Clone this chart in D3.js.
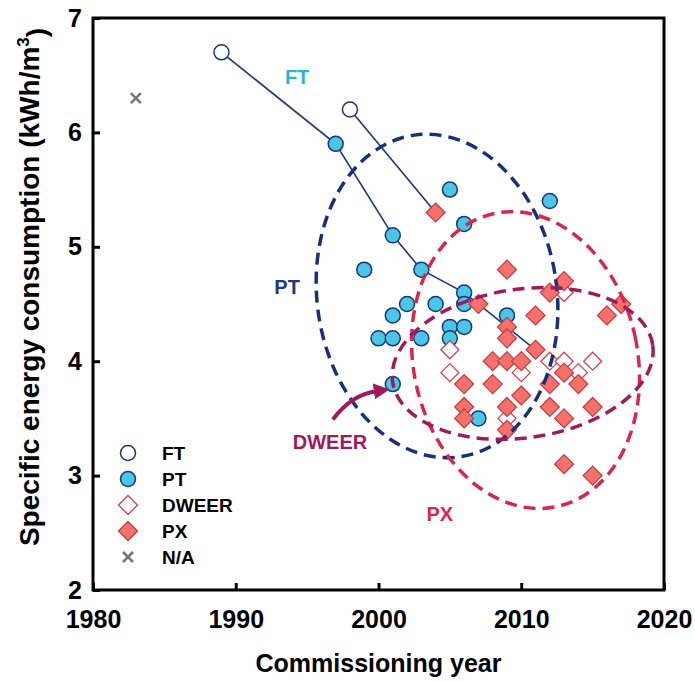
<!DOCTYPE html>
<html>
<head>
<meta charset="utf-8">
<script src="https://cdn.jsdelivr.net/npm/d3@7"></script>
<style>
body{margin:0;background:#fff;}
text{font-family:"Liberation Sans",Arial,sans-serif;font-weight:bold;}
</style>
</head>
<body>
<svg id="chart" width="695" height="681"></svg>
<script>
//data: [commissioning year, SEC kWh/m3]
var ftPoints=[[1989,6.7],[1998,6.2]];
var ptPoints=[[1997,5.9],[2001,5.1],[1999,4.8],[2003,4.8],[2005,5.5],[2006,5.2],[2012,5.4],
	[2006,4.6],[2006,4.5],[2002,4.5],[2004,4.5],[2001,4.4],[2009,4.4],[2005,4.3],[2006,4.3],
	[2005,4.2],[2000,4.2],[2001,4.2],[2003,4.2],[2001,3.8],[2007,3.5]];
var dweerPoints=[[2005,4.1],[2005,3.9],[2009,3.5],[2010,3.9],[2012,4.0],[2013,4.0],
	[2013,4.6],[2014,3.9],[2015,4.0]];
var pxPoints=[[2004,5.3],[2009,4.8],[2013,4.7],[2012,4.6],[2017,4.5],[2007,4.5],[2011,4.4],
	[2016,4.4],[2009,4.3],[2009,4.2],[2011,4.1],[2008,4.0],[2009,4.0],[2010,4.0],[2013,3.9],
	[2006,3.8],[2008,3.8],[2012,3.8],[2014,3.8],[2010,3.7],[2009,3.6],[2012,3.6],[2015,3.6],
	[2006,3.6],[2006,3.5],[2013,3.5],[2009,3.4],[2013,3.1],[2015,3.0]];
var naPoints=[[1983,6.3]];
//plants joined by thin lines
var trendLines=[
	[[1989,6.7],[1997,5.9],[2001,5.1],[2003,4.8],[2006,4.6],[2011,4.1]],
	[[1998,6.2],[2004,5.3]]
];
//group ellipses: centre, half widths (years, kWh/m3), tilt
var groupNames=["PT","PX","DWEER"];
var groupCx=[2004.1,2010.3,2010.1];
var groupCy=[4.57,4.01,3.98];
var groupRx=[8.4,7.85,9.2];
var groupRy=[1.42,1.31,0.65];
var groupTilt=[-8,-12,-8];
var xTicks=[1980,1990,2000,2010,2020];
var yTicks=[2,3,4,5,6,7];
var legendNames=["FT","PT","DWEER","PX","N/A"];

//colours
var navy="#1c3576", cyan="#4ac6e6", salmon="#f4706a", darkRed="#c23a42";
var groupColor={PT:"#17307c",PX:"#d8264f",DWEER:"#a01a5e"};

var svg=d3.select("#chart");
var mLeft=93,mRight=664,mTop=18,mBottom=590;

var x=d3.scaleLinear().domain([1980,2020]).range([mLeft,mRight]);
var y=d3.scaleLinear().domain([2,7]).range([mBottom,mTop]);

//axes (ticks inward)
var xAxis=svg.append("g")
	.attr("transform","translate(0,"+mBottom+")")
	.call(d3.axisBottom(x).tickValues(xTicks).tickSize(-7).tickPadding(20).tickFormat(d3.format("d")));
var yAxis=svg.append("g")
	.attr("transform","translate("+mLeft+",0)")
	.call(d3.axisLeft(y).tickValues(yTicks).tickSize(-7).tickPadding(11).tickFormat(d3.format("d")));
[xAxis,yAxis].forEach(function(g){
	g.select(".domain").remove();
	g.selectAll("line").attr("stroke","#000").attr("stroke-width",3);
	g.selectAll("text").style("font-size","25px").attr("fill","#000");
});

//frame
svg.append("rect")
	.attr("x",mLeft).attr("y",mTop)
	.attr("width",mRight-mLeft).attr("height",mBottom-mTop)
	.attr("fill","none").attr("stroke","#000").attr("stroke-width",3);

//axis titles
svg.append("text")
	.attr("x",(mLeft+mRight)/2).attr("y",672)
	.attr("text-anchor","middle")
	.style("font-size","25px")
	.text("Commissioning year");
var yt=svg.append("text")
	.attr("transform","translate(39,287) rotate(-90)")
	.attr("text-anchor","middle")
	.style("font-size","28px");
yt.append("tspan").text("Specific energy consumption (kWh/m");
yt.append("tspan").attr("dy","-0.6em").style("font-size","17px").text("3");
yt.append("tspan").attr("dy","0.6em").text(")");

var plot=svg.append("g");

//connecting lines
var line=d3.line().x(function(d){return x(d[0]);}).y(function(d){return y(d[1]);});
plot.selectAll("path.trend")
	.data(trendLines)
	.enter()
	.append("path")
	.attr("class","trend")
	.attr("d",line)
	.attr("fill","none")
	.attr("stroke",navy)
	.attr("stroke-width",1.6);

function diamond(s){return "M0,"+(-s)+"L"+s+",0L0,"+s+"L"+(-s)+",0Z";}

//PT circles
plot.selectAll("circle.pt")
	.data(ptPoints)
	.enter()
	.append("circle")
	.attr("class","pt")
	.attr("cx",function(d){return x(d[0]);})
	.attr("cy",function(d){return y(d[1]);})
	.attr("r",7.5)
	.attr("fill",cyan)
	.attr("stroke",navy)
	.attr("stroke-width",1.5);

//FT open circles
plot.selectAll("circle.ft")
	.data(ftPoints)
	.enter()
	.append("circle")
	.attr("class","ft")
	.attr("cx",function(d){return x(d[0]);})
	.attr("cy",function(d){return y(d[1]);})
	.attr("r",7.5)
	.attr("fill","#fff")
	.attr("stroke",navy)
	.attr("stroke-width",1.5);

//DWEER open diamonds
plot.selectAll("path.dweer")
	.data(dweerPoints)
	.enter()
	.append("path")
	.attr("class","dweer")
	.attr("transform",function(d){return "translate("+x(d[0])+","+y(d[1])+")";})
	.attr("d",diamond(9))
	.attr("fill","#fff")
	.attr("stroke","#d2414f")
	.attr("stroke-width",1.3);

//PX diamonds
plot.selectAll("path.px")
	.data(pxPoints)
	.enter()
	.append("path")
	.attr("class","px")
	.attr("transform",function(d){return "translate("+x(d[0])+","+y(d[1])+")";})
	.attr("d",diamond(9.5))
	.attr("fill",salmon)
	.attr("stroke",darkRed)
	.attr("stroke-width",1.2);

//N/A cross
plot.selectAll("path.na")
	.data(naPoints)
	.enter()
	.append("path")
	.attr("class","na")
	.attr("transform",function(d){return "translate("+x(d[0])+","+y(d[1])+")";})
	.attr("d","M-5,-5L5,5M-5,5L5,-5")
	.attr("stroke","#777")
	.attr("stroke-width",2.5);

//dashed group ellipses
plot.selectAll("ellipse")
	.data(groupNames)
	.enter()
	.append("ellipse")
	.attr("cx",function(d,i){return x(groupCx[i]);})
	.attr("cy",function(d,i){return y(groupCy[i]);})
	.attr("rx",function(d,i){return x(groupCx[i]+groupRx[i])-x(groupCx[i]);})
	.attr("ry",function(d,i){return y(groupCy[i])-y(groupCy[i]+groupRy[i]);})
	.attr("transform",function(d,i){return "rotate("+groupTilt[i]+","+x(groupCx[i])+","+y(groupCy[i])+")";})
	.attr("fill","none")
	.attr("stroke",function(d){return groupColor[d];})
	.attr("stroke-width",3.5)
	.attr("stroke-dasharray","12,7");

//curved arrow to DWEER ellipse
svg.append("defs").append("marker")
	.attr("id","head")
	.attr("viewBox","0 0 10 10")
	.attr("refX",2).attr("refY",5)
	.attr("markerWidth",4).attr("markerHeight",4)
	.attr("orient","auto")
	.append("path")
	.attr("d","M0,0L10,5L0,10Z")
	.attr("fill",groupColor.DWEER);
plot.append("path")
	.attr("d","M"+x(1996.8)+","+y(3.49)+"Q"+x(1998.1)+","+y(3.71)+" "+x(1999.9)+","+y(3.74))
	.attr("fill","none")
	.attr("stroke",groupColor.DWEER)
	.attr("stroke-width",4)
	.attr("marker-end","url(#head)");

//group labels
var labelNames=["FT","PT","DWEER","PX"];
var labelX=[1994.3,1993.6,1996.6,2004.3];
var labelY=[6.48,4.65,3.29,2.66];
var labelColor=["#2ab4d2","#1b3a7e","#a01a5e","#d8264f"];
plot.selectAll("text.lab")
	.data(labelNames)
	.enter()
	.append("text")
	.attr("class","lab")
	.attr("x",function(d,i){return x(labelX[i]);})
	.attr("y",function(d,i){return y(labelY[i]);})
	.attr("dy","0.35em")
	.attr("text-anchor","middle")
	.attr("fill",function(d,i){return labelColor[i];})
	.style("font-size","20px")
	.text(function(d){return d;});

//legend
var legend=svg.append("g").attr("transform","translate(128,453)");
var rows=legend.selectAll("g")
	.data(legendNames)
	.enter()
	.append("g")
	.attr("transform",function(d,i){return "translate(0,"+(i*26)+")";});
rows.each(function(d){
	var g=d3.select(this);
	if(d=="FT"||d=="PT"){
		g.append("circle").attr("r",7.5)
			.attr("fill",d=="FT"?"#fff":cyan)
			.attr("stroke",navy).attr("stroke-width",1.5);
	}else if(d=="DWEER"||d=="PX"){
		g.append("path").attr("d",diamond(9.5))
			.attr("fill",d=="PX"?salmon:"#fff")
			.attr("stroke",d=="PX"?darkRed:"#d2414f").attr("stroke-width",1.3);
	}else{
		g.append("path").attr("d","M-5,-5L5,5M-5,5L5,-5")
			.attr("stroke","#777").attr("stroke-width",2.5);
	}
	g.append("text").attr("x",34).attr("dy","0.35em")
		.style("font-size","19px").text(d);
});
</script>
</body>
</html>
